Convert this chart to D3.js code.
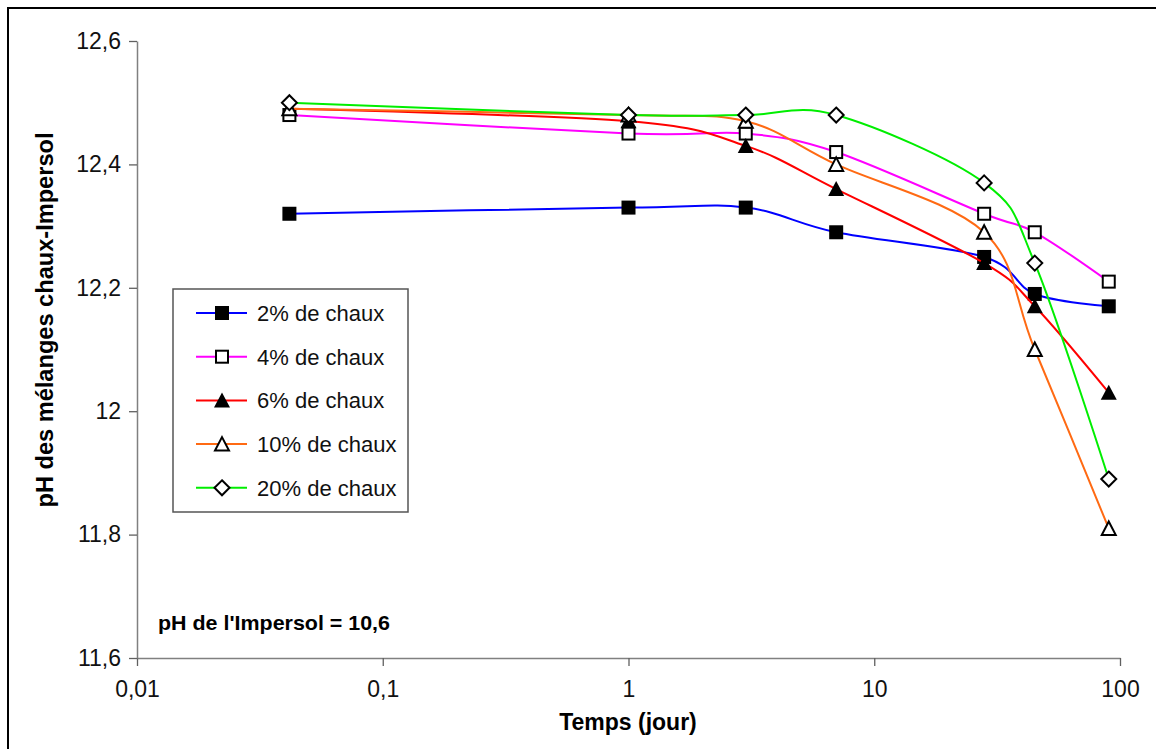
<!DOCTYPE html>
<html><head><meta charset="utf-8">
<script src="https://cdn.jsdelivr.net/npm/d3@7"></script>
<style>body{margin:0;background:#fff;} svg{display:block;font-family:"Liberation Sans",Arial,sans-serif;}</style>
</head><body>
<svg id="c" width="1156" height="749"></svg>
<script>
const days = [0.0417, 1, 3, 7, 28, 45, 90];
const ph2  = [12.32, 12.33, 12.33, 12.29, 12.25, 12.19, 12.17];
const ph4  = [12.48, 12.45, 12.45, 12.42, 12.32, 12.29, 12.21];
const ph6  = [12.49, 12.47, 12.43, 12.36, 12.24, 12.17, 12.03];
const ph10 = [12.49, 12.48, 12.47, 12.40, 12.29, 12.10, 11.81];
const ph20 = [12.50, 12.48, 12.48, 12.48, 12.37, 12.24, 11.89];
const seriesNames = ["2% de chaux", "4% de chaux", "6% de chaux", "10% de chaux", "20% de chaux"];
const xTicks = [0.01, 0.1, 1, 10, 100];
const yTicks = [11.6, 11.8, 12, 12.2, 12.4, 12.6];
const yTitle = "pH des mélanges chaux-Impersol";
const xTitle = "Temps (jour)";
const note = "pH de l'Impersol = 10,6";

const seriesVals = [ph2, ph4, ph6, ph10, ph20];
const colors = ["#0000ff", "#ff00ff", "#ff0000", "#ff6a13", "#00ee00"];
const markers = ["fsquare", "osquare", "ftri", "otri", "odiamond"];

const svg = d3.select("#c");
// outer frame
svg.append("rect").attr("x", 8).attr("y", 8).attr("width", 1160).attr("height", 760)
  .attr("fill", "none").attr("stroke", "#000").attr("stroke-width", 2);

const x = d3.scaleLog().domain([0.01, 100]).range([137, 1120]);
const y = d3.scaleLinear().domain([11.6, 12.6]).range([658, 41]);
const fmt = d => String(+(+d).toFixed(2)).replace(".", ",");

const gx = svg.append("g").attr("transform", "translate(0,658)")
  .call(d3.axisBottom(x).tickValues(xTicks).tickFormat(fmt).tickSize(8).tickSizeOuter(0).tickPadding(15));
const gy = svg.append("g").attr("transform", "translate(137,0)")
  .call(d3.axisLeft(y).tickValues(yTicks).tickFormat(fmt).tickSize(8).tickSizeOuter(0).tickPadding(8));
[gx, gy].forEach(g => {
  g.select(".domain").attr("stroke", "#808080").attr("stroke-width", 1.5);
  g.selectAll(".tick line").attr("stroke", "#606060").attr("stroke-width", 1.3);
  g.selectAll(".tick text").attr("fill", "#111").attr("font-size", 23).attr("font-family", "Liberation Sans, Arial, sans-serif");
});

function drawMarker(g, type, cx, cy) {
  const s = 7;
  if (type === "fsquare") g.append("rect").attr("x", cx - s).attr("y", cy - s).attr("width", 2*s).attr("height", 2*s).attr("fill", "#000");
  else if (type === "osquare") g.append("rect").attr("x", cx - 6).attr("y", cy - 6).attr("width", 12).attr("height", 12).attr("fill", "#fff").attr("stroke", "#000").attr("stroke-width", 2);
  else if (type === "ftri") g.append("path").attr("d", `M${cx},${cy-8}L${cx+8},${cy+7}L${cx-8},${cy+7}Z`).attr("fill", "#000");
  else if (type === "otri") g.append("path").attr("d", `M${cx},${cy-7}L${cx+7},${cy+6.5}L${cx-7},${cy+6.5}Z`).attr("fill", "#fff").attr("stroke", "#000").attr("stroke-width", 2);
  else if (type === "odiamond") g.append("path").attr("d", `M${cx},${cy-7.5}L${cx+7.5},${cy}L${cx},${cy+7.5}L${cx-7.5},${cy}Z`).attr("fill", "#fff").attr("stroke", "#000").attr("stroke-width", 2);
}

const line = d3.line().x(d => x(d[0])).y(d => y(d[1])).curve(d3.curveCatmullRom.alpha(0));
seriesVals.forEach((vals, i) => {
  const pts = days.map((d, j) => [d, vals[j]]);
  const g = svg.append("g");
  g.append("path").attr("d", line(pts)).attr("fill", "none").attr("stroke", colors[i]).attr("stroke-width", 2);
  pts.forEach(p => drawMarker(g, markers[i], x(p[0]), y(p[1])));
});

// legend
const lg = svg.append("g");
lg.append("rect").attr("x", 173).attr("y", 289).attr("width", 235).attr("height", 223)
  .attr("fill", "#fff").attr("stroke", "#555").attr("stroke-width", 1.5);
seriesNames.forEach((n, i) => {
  const cy = 313 + i * 43.7;
  lg.append("line").attr("x1", 196).attr("x2", 247).attr("y1", cy).attr("y2", cy).attr("stroke", colors[i]).attr("stroke-width", 2);
  drawMarker(lg, markers[i], 222, cy);
  lg.append("text").attr("x", 257).attr("y", cy + 8).attr("font-size", 22).attr("fill", "#111").text(n);
});

// titles
svg.append("text").attr("transform", "translate(53,320) rotate(-90)").attr("text-anchor", "middle")
  .attr("font-size", 23).attr("font-weight", "bold").attr("textLength", 375).attr("lengthAdjust", "spacingAndGlyphs").text(yTitle);
svg.append("text").attr("x", 628).attr("y", 730).attr("text-anchor", "middle")
  .attr("font-size", 23).attr("font-weight", "bold").text(xTitle);
svg.append("text").attr("x", 158).attr("y", 630).attr("font-size", 21).attr("font-weight", "bold")
  .attr("textLength", 232).attr("lengthAdjust", "spacingAndGlyphs").text(note);
</script>
</body></html>
